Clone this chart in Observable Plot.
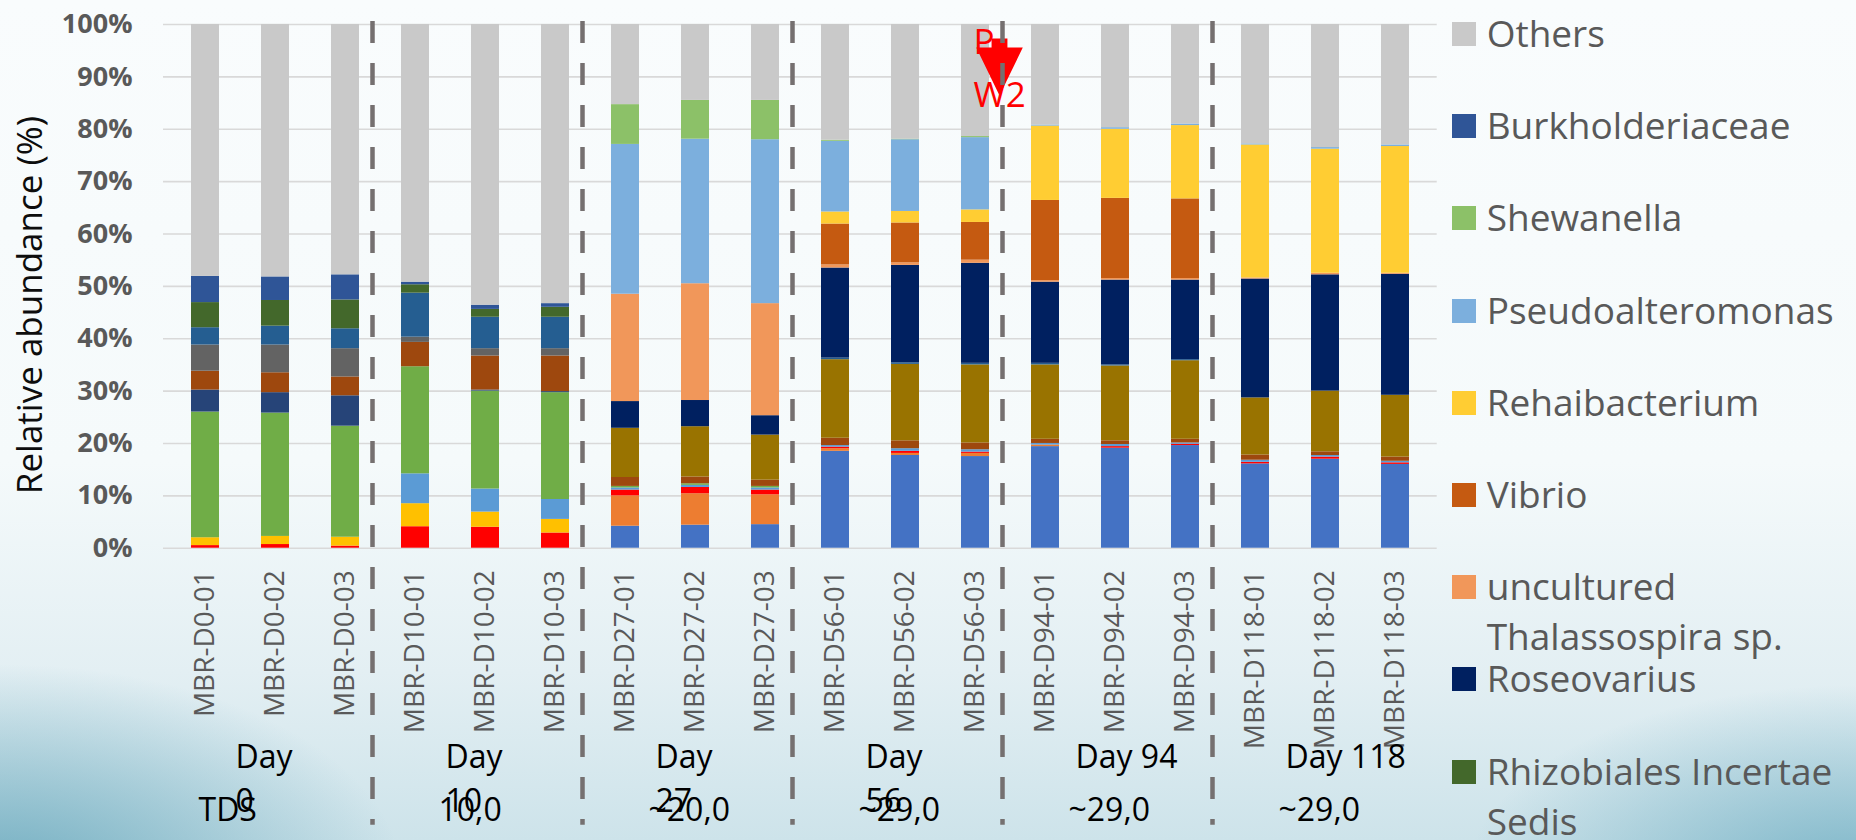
<!DOCTYPE html>
<html>
<head>
<meta charset="utf-8">
<script src="https://cdn.jsdelivr.net/npm/d3@7"></script>
<script src="https://cdn.jsdelivr.net/npm/@observablehq/plot@0.6"></script>
<style>
  html, body { margin: 0; padding: 0; }
  body {
    width: 1856px; height: 840px; overflow: hidden; position: relative;
    font-family: "Open Sans", sans-serif;
    background:
      radial-gradient(ellipse 560px 300px at 0px 880px, rgba(90,160,182,0.80), rgba(90,160,182,0) 72%),
      radial-gradient(ellipse 520px 260px at 1856px 880px, rgba(95,165,188,0.75), rgba(95,165,188,0) 75%),
      linear-gradient(180deg, #f9fcfd 0%, #f5fafb 55%, #e3eff3 80%, #cde3ea 100%);
  }
  #chart { position: absolute; left: 0; top: 0; }
  #legend { position: absolute; left: 1452px; top: 0; }
  .item { position: absolute; left: 0; width: 404px; color: #595959; font-size: 37px; line-height: 50px; }
  .sw { position: absolute; left: 0; top: 14px; width: 24px; height: 24px; }
  .lbl { position: absolute; left: 34.7px; top: 0; width: 370px; white-space: normal; }
</style>
</head>
<body>
<div id="chart"></div>
<div id="legend"></div>
<script>
// ---------- data ----------
const samples = [
  "MBR-D0-01", "MBR-D0-02", "MBR-D0-03",
  "MBR-D10-01", "MBR-D10-02", "MBR-D10-03",
  "MBR-D27-01", "MBR-D27-02", "MBR-D27-03",
  "MBR-D56-01", "MBR-D56-02", "MBR-D56-03",
  "MBR-D94-01", "MBR-D94-02", "MBR-D94-03",
  "MBR-D118-01", "MBR-D118-02", "MBR-D118-03"
];

// stack order, bottom to top
const seriesNames = [
  "Taxon 1", "Taxon 2", "Taxon 3", "Taxon 4", "Taxon 5", "Taxon 6",
  "Taxon 7", "Taxon 8", "Taxon 9", "Taxon 10", "Taxon 11",
  "Rhizobiales Incertae Sedis", "Roseovarius", "uncultured Thalassospira sp.",
  "Vibrio", "Rehaibacterium", "Pseudoalteromonas", "Shewanella",
  "Burkholderiaceae", "Others"
];
const seriesColors = [
  "#4472c4", "#ed7d31", "#ff0000", "#ffc000", "#5b9bd5", "#70ad47",
  "#264478", "#9e480e", "#636363", "#997300", "#255e91",
  "#43682b", "#002060", "#f1975a", "#c55a11", "#ffcd33", "#7cafdd", "#8cc168",
  "#2f5597", "#c9c9c9"
];

// relative abundance (%), one value per sample
const taxon01 = [0,0,0, 0,0,0, 4.2,4.4,4.5, 18.5,17.7,17.5, 19.4,19.1,19.6, 16.1,17.0,16.0];
const taxon02 = [0,0,0, 0,0,0, 5.8,6.0,5.7, 0.5,0.4,0.6, 0.3,0,0, 0,0,0];
const taxon03 = [0.5,0.7,0.4, 4.1,4.0,2.9, 1.1,1.2,0.9, 0.3,0.4,0.25, 0,0.3,0.25, 0.3,0.4,0.3];
const taxon04 = [1.5,1.55,1.7, 4.4,2.9,2.6, 0,0,0, 0,0,0, 0,0,0, 0,0,0];
const taxon05 = [0,0,0, 5.7,4.4,3.8, 0.4,0.4,0.4, 0.3,0.5,0.45, 0.3,0.4,0.25, 0.4,0.3,0.3];
const taxon06 = [24.0,23.55,21.2, 20.45,18.7,20.4, 0.3,0.3,0.3, 0,0,0, 0,0,0, 0,0,0];
const taxon07 = [4.2,3.9,5.8, 0,0.2,0.2, 0,0,0, 0,0,0, 0,0,0, 0,0,0];
const taxon08 = [3.6,3.8,3.6, 4.65,6.5,6.8, 1.7,1.3,1.2, 1.4,1.5,1.3, 0.8,0.7,0.7, 1.0,0.7,0.8];
const taxon09 = [5.0,5.3,5.4, 1.0,1.4,1.4, 0,0,0, 0,0,0, 0,0,0, 0,0,0];
const taxon10 = [0,0,0, 0,0,0, 9.4,9.6,8.6, 15.0,14.6,14.9, 14.2,14.3,15.0, 10.9,11.6,11.8];
const taxon11 = [3.3,3.6,3.8, 8.4,6.0,6.0, 0,0,0, 0.3,0.3,0.3, 0.3,0.2,0.2, 0,0,0];
const rhizobiales = [4.8,4.9,5.5, 1.6,1.5,1.9, 0,0,0, 0,0,0, 0,0,0, 0,0,0];
const roseovarius = [0,0,0, 0,0,0, 5.1,5.0,3.7, 17.2,18.6,19.1, 15.5,16.2,15.2, 22.7,22.2,23.1];
const thalassospira = [0,0,0, 0,0,0, 20.5,22.3,21.4, 0.6,0.5,0.6, 0.3,0.3,0.3, 0.2,0.3,0.2];
const vibrio = [0,0,0, 0,0,0, 0,0,0, 7.8,7.6,7.2, 15.3,15.3,15.2, 0,0,0];
const rehaibacterium = [0,0,0, 0,0,0, 0,0,0, 2.3,2.2,2.4, 14.2,13.2,14.0, 25.4,23.7,24.2];
const pseudoalteromonas = [0,0,0, 0,0,0, 28.6,27.6,31.3, 13.5,13.7,13.8, 0.2,0.3,0.3, 0.2,0.3,0.3];
const shewanella = [0,0,0, 0,0,0, 7.6,7.4,7.5, 0.2,0.1,0.2, 0,0,0, 0,0,0];
const burkholderiaceae = [5.0,4.5,4.8, 0.5,0.8,0.7, 0,0,0, 0,0,0, 0,0,0, 0,0,0];
const others = [48.1,48.2,47.8, 49.2,53.6,53.3, 15.3,14.5,14.5, 22.1,21.9,21.4, 19.2,19.7,19.0, 22.8,23.5,23.0];

const seriesValues = [
  taxon01, taxon02, taxon03, taxon04, taxon05, taxon06, taxon07, taxon08, taxon09, taxon10, taxon11,
  rhizobiales, roseovarius, thalassospira, vibrio, rehaibacterium, pseudoalteromonas, shewanella,
  burkholderiaceae, others
];

const yTicks = [0, 10, 20, 30, 40, 50, 60, 70, 80, 90, 100];
const yLabel = "Relative abundance (%)";
const dayLabels = ["Day\n0", "Day\n10", "Day\n27", "Day\n56", "Day 94", "Day 118"];
const tdsTitle = "TDS";
const tdsValues = ["10,0", "~20,0", "~29,0", "~29,0", "~29,0"];
const annotation = {sample: "MBR-D56-03", label: "P\nW2"};
const legendCount = 9; // legend shows the top nine series

// ---------- build ----------
const table = seriesNames.flatMap((name, i) =>
  samples.map((s, j) => ({sample: s, series: name, value: seriesValues[i][j]})));
const middles = samples.filter((d, i) => i % 3 === 1);
const starts = samples.filter((d, i) => i % 3 === 0 && i > 0);

const arrowShape = {
  draw(context, l, r) {
    const w = r * 0.34, hb = r * 0.39;
    context.moveTo(-w, 0);
    context.lineTo(-w, -hb);
    context.lineTo(-r, -hb);
    context.lineTo(0, -l);
    context.lineTo(r, -hb);
    context.lineTo(w, -hb);
    context.lineTo(w, 0);
    context.closePath();
  }
};

const chart = Plot.plot({
  width: 1856,
  height: 840,
  marginLeft: 163,
  marginRight: 419.3,
  marginTop: 24,
  marginBottom: 292.3,
  style: {background: "transparent", fontFamily: "Open Sans", overflow: "visible"},
  x: {domain: samples, paddingInner: 0.604, paddingOuter: 0.302, label: null},
  y: {domain: [0, 100], label: null},
  color: {domain: seriesNames, range: seriesColors},
  marks: [
    Plot.gridY(yTicks, {stroke: "#d9d9d9", strokeOpacity: 1, strokeWidth: 1.6}),
    Plot.barY(table, {x: "sample", y: "value", fill: "series", order: seriesNames}),
    Plot.axisY(yTicks, {
      tickSize: 0, tickPadding: 31, tickFormat: d => d + "%",
      fontSize: 27, fontWeight: 700, color: "#595959", label: null
    }),
    Plot.axisX({
      tickSize: 0, tickRotate: -90, tickPadding: 22,
      fontSize: 28, color: "#595959", label: null
    }),
    Plot.text([yLabel], {
      text: d => d, frameAnchor: "left", rotate: -90, dx: -132.7, dy: 18.7,
      fontSize: 35, fill: "#0d0d0d", lineAnchor: "middle", textAnchor: "middle"
    }),
    Plot.text(dayLabels, {
      x: (d, i) => middles[i], text: d => d, frameAnchor: "bottom",
      dy: 188, dx: -40, lineAnchor: "top", textAnchor: "start",
      fontSize: 32, lineHeight: 1.38, fill: "#000000"
    }),
    Plot.text(tdsValues, {
      x: (d, i) => middles[i + 1], text: d => d, frameAnchor: "bottom",
      dy: 250.3, dx: -47, lineAnchor: "top", textAnchor: "start",
      fontSize: 32, fill: "#000000"
    }),
    Plot.text([tdsTitle], {
      x: () => samples[0], text: d => d, frameAnchor: "bottom",
      dy: 250.3, dx: -7, lineAnchor: "top", textAnchor: "start",
      fontSize: 32, fill: "#000000"
    }),
    Plot.vector([annotation], {
      x: "sample", y: () => 100, dx: 24, dy: 14, length: 57, r: 23.3,
      rotate: 180, anchor: "start", shape: arrowShape, fill: "#ff0000", stroke: "none"
    }),
    Plot.text([annotation], {
      x: "sample", y: () => 100, text: "label", dx: -2, dy: -9,
      lineAnchor: "top", textAnchor: "start", fontSize: 35, lineHeight: 1.53, fill: "#ff0000"
    }),
    Plot.ruleX(starts, {
      stroke: "#757070", strokeWidth: 4.5, strokeDasharray: "22,20",
      insetTop: -3, insetBottom: -277, dx: -43
    })
  ]
});
document.getElementById("chart").appendChild(chart);

// ---------- legend (top series, listed top of stack first) ----------
const legend = document.getElementById("legend");
const legendSeries = seriesNames.slice(-legendCount).reverse();
legendSeries.forEach((name, i) => {
  const item = document.createElement("div");
  item.className = "item";
  item.style.top = (8 + i * 92.2) + "px";
  const sw = document.createElement("div");
  sw.className = "sw";
  sw.style.background = seriesColors[seriesNames.indexOf(name)];
  const lbl = document.createElement("div");
  lbl.className = "lbl";
  lbl.textContent = name;
  item.appendChild(sw);
  item.appendChild(lbl);
  legend.appendChild(item);
});
</script>
</body>
</html>
